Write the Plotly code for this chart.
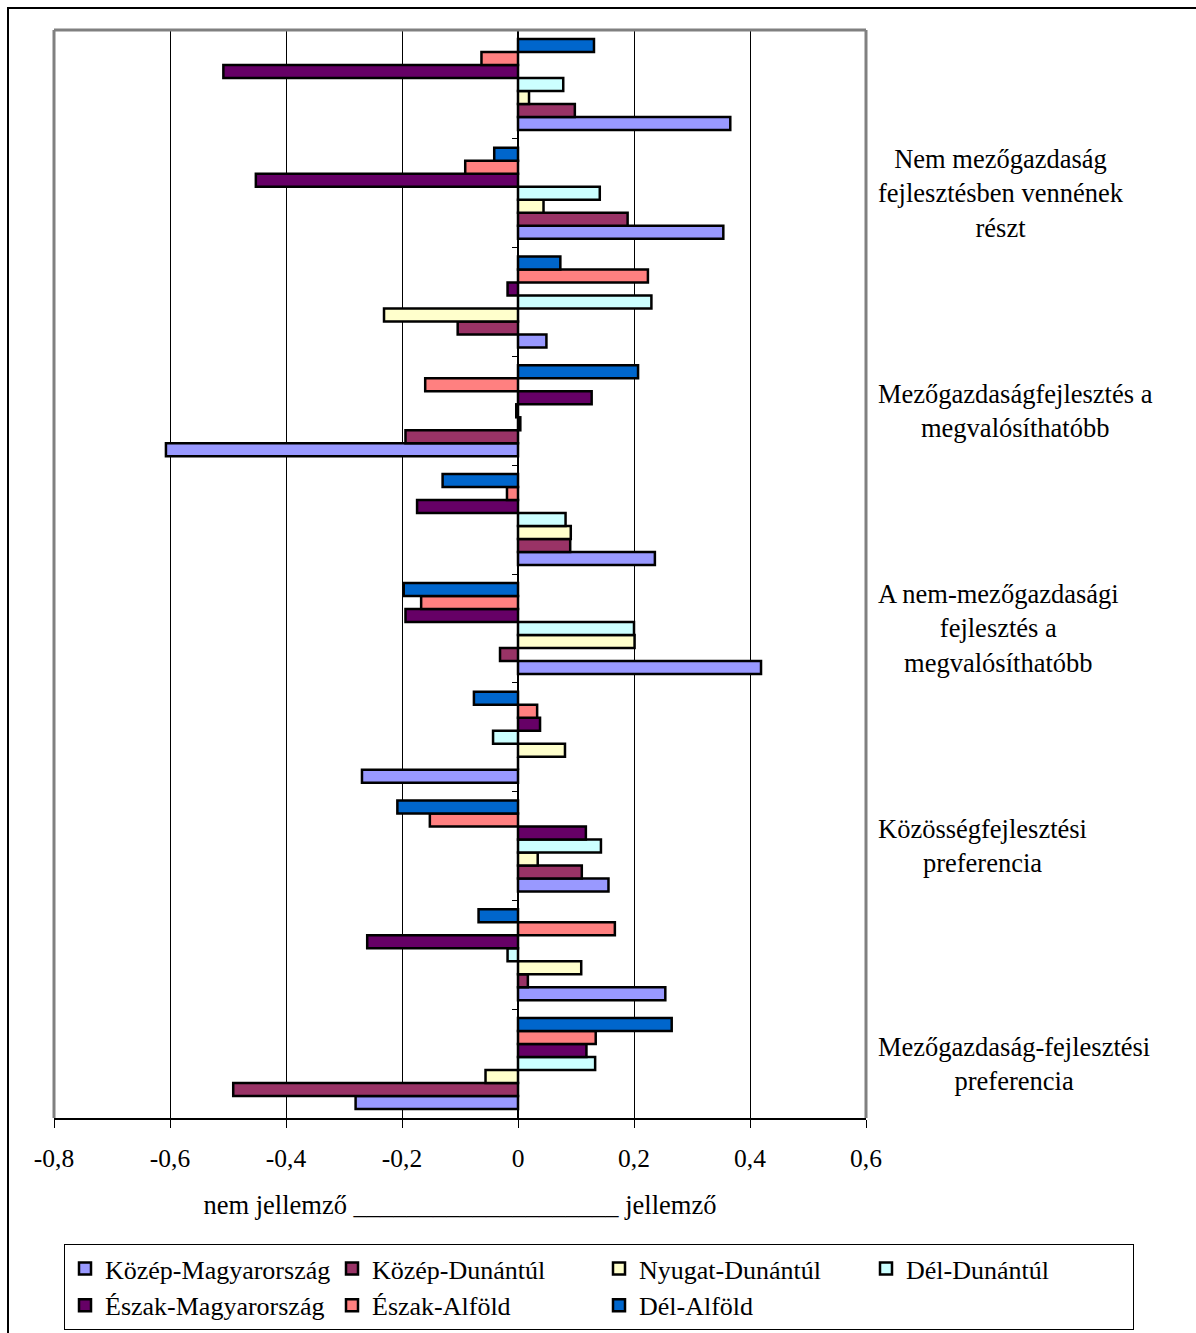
import plotly.graph_objects as go

# Category labels from bottom (index 0) to top (index 9); empty = label not shown
category_labels = [
    "Mezőgazdaság-fejlesztési<br>preferencia",
    "",
    "Közösségfejlesztési<br>preferencia",
    "",
    "A nem-mezőgazdasági<br>fejlesztés a<br>megvalósíthatóbb",
    "",
    "Mezőgazdaságfejlesztés a<br>megvalósíthatóbb",
    "",
    "Nem mezőgazdaság<br>fejlesztésben vennének<br>részt",
    "",
]
positions = list(range(len(category_labels)))

series_names = [
    "Közép-Magyarország",
    "Közép-Dunántúl",
    "Nyugat-Dunántúl",
    "Dél-Dunántúl",
    "Észak-Magyarország",
    "Észak-Alföld",
    "Dél-Alföld",
]

kozep_magyarorszag = [-0.280, 0.254, 0.156, -0.269, 0.419, 0.236, -0.607, 0.049, 0.354, 0.366]
kozep_dunantul = [-0.491, 0.017, 0.110, 0.000, -0.031, 0.090, -0.194, -0.104, 0.189, 0.098]
nyugat_dunantul = [-0.056, 0.109, 0.034, 0.081, 0.201, 0.091, 0.004, -0.231, 0.044, 0.019]
del_dunantul = [0.133, -0.018, 0.143, -0.043, 0.200, 0.082, -0.003, 0.230, 0.141, 0.078]
eszak_magyarorszag = [0.118, -0.260, 0.117, 0.038, -0.194, -0.174, 0.127, -0.018, -0.452, -0.508]
eszak_alfold = [0.134, 0.167, -0.152, 0.033, -0.167, -0.019, -0.160, 0.224, -0.091, -0.063]
del_alfold = [0.265, -0.068, -0.208, -0.076, -0.197, -0.130, 0.207, 0.073, -0.041, 0.131]

series_values = [kozep_magyarorszag, kozep_dunantul, nyugat_dunantul, del_dunantul,
                 eszak_magyarorszag, eszak_alfold, del_alfold]
colors = ["#9999FF", "#993366", "#FFFFCC", "#CCFFFF", "#660066", "#FF8080", "#0066CC"]

x_tickvals = [-0.8, -0.6, -0.4, -0.2, 0, 0.2, 0.4, 0.6]
x_ticktext = ["-0,8", "-0,6", "-0,4", "-0,2", "0", "0,2", "0,4", "0,6"]
x_title = "nem jellemző ____________________ jellemző"

FONT = "Liberation Serif, Times New Roman, serif"
FS = 26.5
FS_TICK = 25.5

fig = go.Figure()
for name, vals, col in zip(series_names, series_values, colors):
    fig.add_trace(go.Bar(
        y=positions, x=vals, name=name, orientation="h",
        marker=dict(color=col, line=dict(color="black", width=2.5)),
    ))

xmin, xmax = -0.8, 0.6
zero_pos = (0 - xmin) / (xmax - xmin)

fig.update_layout(
    width=1196, height=1333,
    margin=dict(l=54, r=330, t=30, b=215, pad=0, autoexpand=False),
    paper_bgcolor="white", plot_bgcolor="white",
    font=dict(family=FONT, size=FS, color="black"),
    barmode="group", bargap=0.164, bargroupgap=0,
    showlegend=True,
    legend=dict(
        orientation="h", x=(1134 - 54) / 812, y=(1118 - 1244) / 1088,
        xanchor="right", yanchor="top",
        bordercolor="black", borderwidth=1, bgcolor="white",
        font=dict(family=FONT, size=26),
        entrywidth=222, entrywidthmode="pixels", traceorder="normal",
    ),
    xaxis=dict(
        range=[xmin, xmax], tickvals=x_tickvals, ticktext=x_ticktext,
        showgrid=True, gridcolor="black", gridwidth=1,
        zeroline=False, showline=True, linecolor="black", linewidth=2,
        ticks="outside", ticklen=8, tickcolor="black", tickwidth=1,
        ticklabelstandoff=8, tickfont=dict(size=FS_TICK),
        title=dict(text=x_title, font=dict(size=FS), standoff=24),
        fixedrange=True,
    ),
    yaxis=dict(
        range=[-0.5, len(category_labels) - 0.5],
        anchor="free", position=zero_pos, side="left",
        showgrid=False, zeroline=False, showline=True, linecolor="black", linewidth=2,
        tickvals=[p - 0.5 for p in positions] + [len(positions) - 0.5],
        ticks="outside", ticklen=5, tickcolor="black", showticklabels=False,
        fixedrange=True,
    ),
)

# gray plot-area border (left, top, right)
gray = "#808080"
for x0, y0, x1, y1 in [(0, 0, 0, 1), (0, 1, 1, 1), (1, 0, 1, 1)]:
    fig.add_shape(type="line", xref="paper", yref="paper", x0=x0, y0=y0, x1=x1, y1=y1,
                  line=dict(color=gray, width=3), layer="above")

# outer chart border
fig.add_shape(type="rect", xref="paper", yref="paper",
              x0=(8 - 54) / 812, y0=-0.5, x1=2, y1=(1118 - 8) / 1088,
              line=dict(color="black", width=2), layer="below")

for pos, lab in zip(positions, category_labels):
    if lab:
        fig.add_annotation(x=1, xref="paper", xshift=10, y=pos, yref="y",
                           text=lab, showarrow=False, xanchor="left", yanchor="middle",
                           align="center", font=dict(family=FONT, size=FS))

fig.write_html(
    "out.html",
    config={"displayModeBar": False},
    post_script="document.body.style.margin='0';document.body.style.overflow='hidden';",
)
